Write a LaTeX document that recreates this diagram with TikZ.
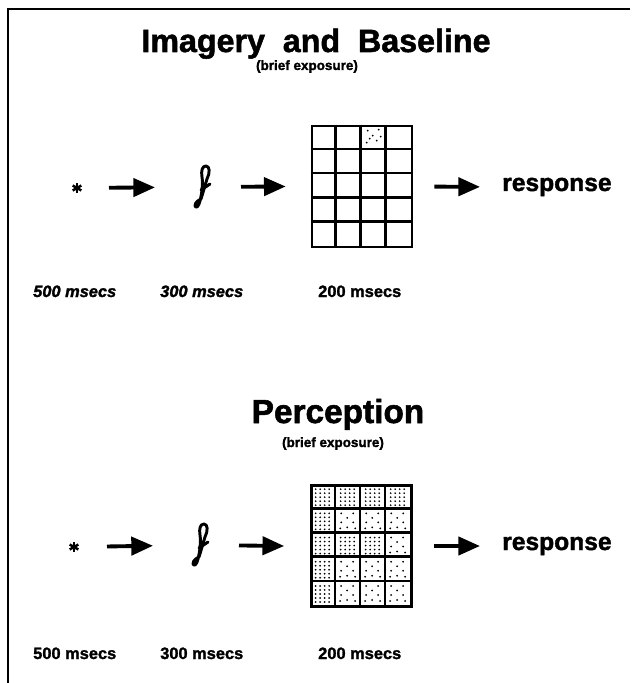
\documentclass[tikz,border=0pt]{standalone}
\usepackage{fontspec}
\setmainfont{Liberation Sans}[BoldFeatures={FakeBold=1.6},BoldItalicFeatures={FakeBold=1.6}]
\usetikzlibrary{arrows.meta}
\begin{document}
\begin{tikzpicture}[x=0.03cm,y=-0.03cm,
  frameline/.style={line width=1.7pt,black},
  arr/.style={line width=3.3pt,-{Triangle[length=18.5pt,width=15.5pt]}},
  gridbox/.style={draw,line width=2.3pt,minimum width=3cm,minimum height=3.63cm,inner sep=0pt},
  gl/.style={line width=2.2pt},
  astk/.style={line width=2.1pt},
  letterstroke/.style={line width=2.5pt,line cap=round,line join=round},
  bigtitle/.style={font=\fontsize{27.5}{30}\selectfont\bfseries,anchor=base,inner sep=0pt},
  subtitle/.style={font=\fontsize{11.5}{13}\selectfont\bfseries,anchor=base,inner sep=0pt},
  resp/.style={font=\fontsize{21}{22}\selectfont\bfseries,inner sep=0pt,anchor=base west},
  timelab/.style={font=\fontsize{14}{15}\selectfont\bfseries,inner sep=0pt,anchor=base west},
  dot/.style={fill=black},
]
\useasboundingbox (0,0) rectangle (635,683);
% frame
\draw[frameline] (8,683) -- (8,9) -- (630,9);

% ---------- top panel ----------
\node[bigtitle] (t1) at (316,52) {Imagery\ \ and\ \ Baseline};
\node[subtitle] (s1) at (307,70) {(brief exposure)};

\coordinate (ast1) at (77,188);
\foreach \a in {90,30,-30} \draw[astk] (ast1) ++(\a:5) -- ++(\a+180:10);

\coordinate (let1) at (202,187);
\begin{scope}[shift={(let1)}]
  \draw[letterstroke] (-1,12) .. controls (1,6) and (3,-2) .. (5,-8)
    .. controls (8,-14) and (8,-21) .. (4,-21)
    .. controls (0,-21) and (-1,-16) .. (0,-10)
    .. controls (1,-4) and (0,6) .. (-2,14)
    .. controls (-3,19) and (-6,22) .. (-7,19)
    .. controls (-7,15) and (-3,13) .. (-1,12);
  \draw[letterstroke] (-1,3) .. controls (2,1) and (5,-1) .. (8,-3);
\end{scope}

\node[gridbox] (g1) at (362,186.5) {};
\foreach \i in {1,2,3} \draw[gl] (g1.north west) ++(25*\i,0) -- ++(0,121);
\foreach \j in {1,2,3,4} \draw[gl] (g1.north west) ++(0,24.2*\j) -- ++(100,0);
% dotted x in cell (row 0, col 2)
\foreach \p in {(7,6),(18,5),(12,11),(9,14),(16,16),(6,18),(20,12)}
  \fill[dot] (g1.north west) ++(50,0) ++\p circle (1.0);

\node[resp] (r1) at (502,191) {response};

\draw[arr,shorten <=0.96cm,shorten >=1.41cm] (ast1) -- (let1);
\draw[arr,shorten <=1.17cm] (let1) -- ([xshift=-0.75cm]g1.west);
\draw[arr,shorten <=0.63cm,shorten >=0.66cm] (g1.east) -- ([yshift=0.12cm]r1.base west);

\node[timelab,font=\fontsize{14}{15}\selectfont\bfseries\itshape] (a1) at (33,297) {500 msecs};
\node[timelab,font=\fontsize{14}{15}\selectfont\bfseries\itshape] (b1) at (160,297) {300 msecs};
\node[timelab] (c1) at (318,297) {200 msecs};

% ---------- bottom panel ----------
\node[bigtitle,font=\fontsize{28.5}{32}\selectfont\bfseries] (t2) at (338,423) {Perception};
\node[subtitle] (s2) at (333,447) {(brief exposure)};

\coordinate (ast2) at (74,547);
\foreach \a in {90,30,-30} \draw[astk] (ast2) ++(\a:5) -- ++(\a+180:10);

\coordinate (let2) at (200,545);
\begin{scope}[shift={(let2)}]
  \draw[letterstroke] (-1,12) .. controls (1,6) and (3,-2) .. (5,-8)
    .. controls (8,-14) and (8,-21) .. (4,-21)
    .. controls (0,-21) and (-1,-16) .. (0,-10)
    .. controls (1,-4) and (0,6) .. (-2,14)
    .. controls (-3,19) and (-6,22) .. (-7,19)
    .. controls (-7,15) and (-3,13) .. (-1,12);
  \draw[letterstroke] (-1,3) .. controls (2,1) and (5,-1) .. (8,-3);
\end{scope}

\node[gridbox] (g2) at (361.5,546) {};
\foreach \i in {1,2,3} \draw[gl] (g2.north west) ++(25*\i,0) -- ++(0,121);
\foreach \j in {1,2,3,4} \draw[gl] (g2.north west) ++(0,24.2*\j) -- ++(100,0);
% dot patterns: dense cells (col 0 all rows, row 0 all cols, row 2 cols 0-2)
\foreach \r/\c/\d in {0/0/1,0/1/1,0/2/1,0/3/1,
                      1/0/1,1/1/0,1/2/0,1/3/0,
                      2/0/1,2/1/1,2/2/1,2/3/0,
                      3/0/1,3/1/0,3/2/0,3/3/0,
                      4/0/1,4/1/0,4/2/0,4/3/0}{
  \ifnum\d=1
    \foreach \u in {5.5,10,14.5,19} \foreach \v in {5,9,13,17,21}
      \fill[dot] (g2.north west) ++(25*\c,24.2*\r) ++(\u,\v) circle (0.95);
  \else
    \foreach \p in {(6,5),(18,5),(12,9.5),(6,14),(18,14),(12,19),(20,20),(5,20)}
      \fill[dot] (g2.north west) ++(25*\c,24.2*\r) ++\p circle (1.0);
  \fi
}

\node[resp] (r2) at (502,550) {response};

\draw[arr,shorten <=0.99cm,shorten >=1.41cm] (ast2) -- (let2);
\draw[arr,shorten <=1.17cm] (let2) -- ([xshift=-0.78cm]g2.west);
\draw[arr,shorten <=0.63cm,shorten >=0.66cm] (g2.east) -- ([yshift=0.12cm]r2.base west);

\node[timelab] (a2) at (33,659) {500 msecs};
\node[timelab] (b2) at (160,659) {300 msecs};
\node[timelab] (c2) at (318,659) {200 msecs};
\end{tikzpicture}
\end{document}
